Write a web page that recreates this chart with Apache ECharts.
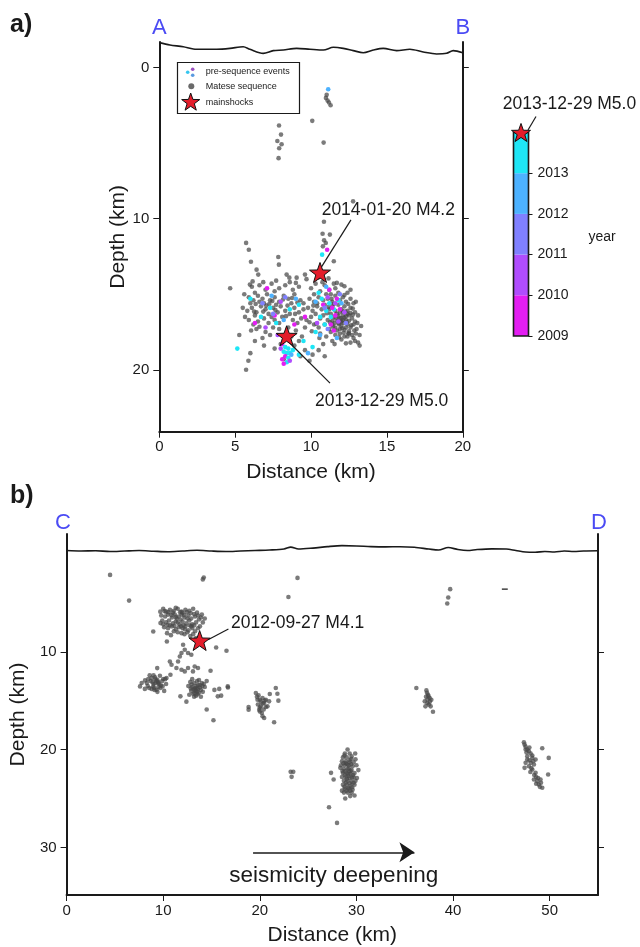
<!DOCTYPE html>
<html><head><meta charset="utf-8">
<script src="https://cdn.jsdelivr.net/npm/echarts@6/dist/echarts.min.js"></script>
<style>html,body{margin:0;padding:0;background:#fff}#c{width:640px;height:947px}</style>
</head><body><div id="c"></div>
<script>
// ---------------- DATA ----------------
// Panel a (A-B), [distance km, depth km]
const aTopo = [[0,-1.66],[0.7,-1.5],[1.58,-1.39],[2.24,-1.24],[2.9,-1.22],[3.78,-1.22],[4.66,-1.28],[5.53,-1.39],[5.97,-1.22],[6.85,-0.95],[7.51,-1.13],[8.17,-1.17],[9.05,-1.28],[9.93,-1.22],[10.81,-1.17],[11.47,-1.35],[12.12,-1.28],[12.78,-1.13],[13.44,-0.99],[14.1,-1.17],[14.76,-1.28],[15.64,-1.13],[16.51,-1.22],[17.39,-1.04],[18.27,-0.91],[18.93,-0.95],[19.37,-1.13],[20,-0.99]];
const aShallowGray = [[11.03,1.8],[10.98,2.0],[11.09,2.18],[11.18,2.31],[11.29,2.49],[10.08,3.52],[10.83,4.96],[7.89,3.83],[8.02,4.43],[7.78,4.85],[8.06,5.07],[7.9,5.33],[7.86,5.99],
  [12.77,8.85],[10.85,10.2],[10.76,10.99],[11.24,11.05],[10.86,11.43],[10.78,11.83],[10.97,11.61],[11.5,12.82],[11.7,14.25],[12.0,14.36],[12.2,14.47],[9.6,13.7],[9.7,14.0],
  [7.84,12.53],[7.88,13.04],[6.41,13.37],[6.52,13.7],[5.97,14.36],[8.39,13.7],[8.57,13.9],[9.05,13.9],[4.67,14.6],[5.72,11.6],[5.9,12.05],[6.04,12.85]];
const aLeftGray = [[6.1,14.5],[6.6,14.4],[7.0,14.7],[7.4,14.3],[7.9,14.6],[8.3,14.4],[8.8,14.7],[9.2,14.5],[6.3,14.9],[7.6,14.8],
  [5.9,15.2],[6.2,15.4],[6.5,15.1],[6.8,15.3],[7.1,15.0],[7.3,15.4],[7.6,15.2],[7.9,15.5],[8.2,15.1],[8.5,15.3],[8.9,15.0],[9.3,15.4],[6.0,15.6],[6.9,15.6],[7.7,15.7],[8.7,15.6],
  [5.8,16.1],[6.1,15.9],[6.4,16.2],[6.7,15.8],[7.0,16.0],[7.2,16.3],[7.5,15.9],[7.8,16.2],[8.0,15.8],[8.3,16.1],[8.6,16.3],[8.9,15.9],[9.2,16.2],[9.5,16.0],[6.3,16.4],[7.4,16.5],[8.1,16.5],[6.6,15.5],[7.25,15.65],[8.45,15.75],
  [5.9,16.7],[6.5,16.8],[6.9,16.6],[7.2,16.9],[7.6,16.7],[7.9,16.9],[8.8,16.7],[9.1,16.9],[6.2,17.0],
  [6.4,17.3],[7.0,17.5],[7.5,17.2],[9.0,17.4],[9.4,17.8],[6.8,17.9],
  [8.0,18.3],[8.9,18.4],[9.6,18.7],[10.1,19.0],[9.3,19.1],[8.2,19.3],[6.0,18.9],[5.87,19.4],[5.72,20.0],[5.27,17.7],[9.5,15.6],[9.7,16.7],[9.6,17.2],
  [6.15,14.15],[6.85,14.2],[7.7,14.1],[8.6,14.2],[9.0,14.25],[5.6,15.0],[5.5,15.9],[5.65,16.5],[6.35,15.65],[7.05,15.75],[7.45,15.45],[8.15,15.35],[8.75,15.25],[9.1,15.55],[6.25,16.15],[6.85,16.15],[7.65,16.05],[8.35,16.45],[8.95,16.3],[9.35,16.6],[6.05,17.4],[6.6,17.15],[7.3,17.7],[7.9,17.3],[8.5,17.2],[8.7,17.8],[9.2,18.1],[6.9,18.4],[7.6,18.6],[10.5,18.7],[10.9,19.1],[9.9,19.4],[6.3,18.1]];
const aRightGray = [[10.0,14.6],[10.3,14.3],[10.6,14.8],[10.9,14.4],[11.2,14.7],[11.5,14.3],[12.4,14.9],[10.2,15.0],[11.0,15.0],[11.8,14.9],
  [9.9,15.3],[10.2,15.5],[10.5,15.2],[10.8,15.4],[11.1,15.3],[11.4,15.5],[11.6,15.1],[11.9,15.4],[12.1,15.2],[12.3,15.5],[12.6,15.3],[12.8,15.6],[10.4,15.6],[11.3,15.0],
  [9.8,15.9],[10.1,16.1],[10.4,15.8],[10.7,16.0],[10.9,15.7],[11.2,16.0],[11.4,15.8],[11.6,16.1],[11.8,15.7],[12.0,16.0],[12.2,15.8],[12.4,16.1],[12.6,15.9],[12.9,16.2],[11.5,15.65],[12.1,16.15],[11.9,16.2],
  [10.0,16.5],[10.3,16.3],[10.6,16.6],[10.8,16.4],[11.1,16.7],[11.3,16.3],[11.5,16.5],[11.7,16.3],[11.9,16.6],[12.1,16.4],[12.3,16.7],[12.5,16.4],[12.7,16.6],[12.9,16.8],[11.4,16.75],[12.0,16.8],[12.4,16.3],[11.8,16.45],[12.2,16.55],[12.6,16.25],
  [10.2,17.0],[10.5,17.2],[10.9,17.0],[11.2,17.3],[11.4,17.0],[11.6,17.2],[11.8,16.9],[12.0,17.1],[12.2,17.35],[12.4,17.0],[12.6,17.2],[12.8,17.0],[13.0,17.3],[11.7,17.4],[12.3,17.2],[11.9,17.3],[12.5,17.45],
  [10.6,17.6],[11.0,17.8],[11.3,17.5],[11.6,17.7],[11.9,17.6],[12.2,17.8],[12.5,17.6],[12.8,17.9],[13.1,18.2],[12.0,18.0],[11.4,18.1],[10.8,18.3],[12.6,18.2],[13.2,17.7],
  [12.0,16.6],[12.15,16.9],[11.85,17.0],[12.35,16.85],[12.05,17.25],[11.65,16.6],[12.25,16.15],[12.45,17.6],
  [11.05,16.25],[11.25,16.85],[11.45,17.15],[11.55,16.9],[11.75,16.75],[11.95,16.85],[12.1,16.7],[12.3,16.45],[12.5,16.75],[12.65,17.05],[12.75,16.35],[12.85,17.4],[12.95,17.6],[13.05,16.9],[12.4,17.8],[12.7,17.7],[12.15,17.55],[11.85,17.85],[11.55,18.3],[12.3,18.25],[12.9,18.1],[13.2,18.4],[11.15,15.85],[11.35,15.3],[12.45,15.65],[12.75,15.95],[12.95,15.5],[13.1,16.4],[12.2,15.05],[11.6,14.6],[10.75,14.2],[10.45,13.9],[11.15,13.95],[12.6,14.7],[10.15,15.75],[10.35,16.95],[10.55,17.9],[10.05,17.45],[9.9,16.85],[13.3,17.1]];
// pre-sequence events: [distance, depth, decimal year]
const aPreSeq = [[11.13,1.43,2012.5],[10.73,12.38,2013.5],[11.06,12.05,2009.5],
  [10.5,14.9,2013.5],[10.7,15.3,2013.3],[11.2,15.6,2013.6],[11.0,16.1,2013.4],[10.6,16.5,2013.7],[11.5,16.0,2013.2],[10.9,17.0,2013.5],[11.3,16.5,2013.8],[11.8,15.4,2013.4],
  [11.2,14.7,2009.5],[11.4,15.9,2009.3],[11.6,16.4,2009.6],[11.3,17.0,2009.4],[10.8,15.7,2009.2],[11.7,15.3,2009.8],[11.9,16.0,2009.5],[11.5,17.4,2009.7],
  [11.1,15.2,2010.4],[11.8,16.8,2010.5],[12.2,16.2,2010.6],[10.4,16.9,2010.3],[11.6,15.6,2010.7],
  [11.9,15.0,2011.4],[10.9,15.9,2011.5],[12.3,16.9,2011.6],[11.1,17.3,2011.5],
  [10.3,15.5,2012.5],[11.0,14.5,2012.4],[12.0,15.6,2012.6],[10.6,17.7,2012.3],[11.7,17.9,2012.5],
  [6.0,15.3,2013.5],[7.3,15.9,2013.4],[6.7,16.5,2013.6],[8.6,16.0,2013.3],[9.2,15.7,2013.5],[7.7,16.9,2013.6],[5.14,18.6,2013.5],
  [7.1,14.6,2009.5],[6.3,16.9,2009.4],[7.6,16.4,2009.6],[8.9,17.0,2009.3],[9.6,16.5,2009.5],
  [8.0,15.5,2010.5],[7.0,17.2,2010.4],[7.8,17.7,2010.5],
  [8.3,15.2,2011.5],[7.5,16.3,2011.5],[6.8,15.6,2011.4],
  [7.4,15.1,2012.5],[8.2,16.7,2012.4],[9.0,15.3,2012.5],
  [8.1,18.3,2009.5],[8.3,18.5,2013.5],[8.5,18.6,2013.6],[8.2,18.8,2013.4],[8.4,18.9,2013.7],[8.6,18.9,2013.5],[8.3,19.1,2009.4],[8.5,19.2,2013.5],[8.1,19.3,2009.6],[8.7,19.0,2012.5],[8.4,19.5,2013.5],[8.2,19.6,2009.5],[8.6,19.4,2010.5],[8.0,18.6,2010.4],[8.8,18.7,2013.6],
  [9.5,18.1,2013.5],[10.1,18.5,2013.5],[9.2,19.0,2013.4],[10.3,17.5,2013.6],[9.8,18.9,2012.5]];
const aMainshocks = [[10.59,13.56],[8.39,17.75]];
const aLabels = ['2014-01-20 M4.2','2013-12-29 M5.0'];
const aLabelPos = [[15.09,9.41],[14.65,22.08]];
const aLeaders = [[[12.63,10.08],[10.7,13.17]],[[11.25,20.88],[8.5,18.13]]];
const aXTicks = [0,5,10,15,20];
const aYTicks = [0,10,20];

// colour bar (years)
const cbEdges = [2009,2010,2011,2012,2013,2014];
const cbTicks = [2009,2010,2011,2012,2013];
const yearColors = ['#e31ef2','#b04dfe','#8080ff','#4db2ff','#1ee6f6'];

// Panel b (C-D)
const bTopo = [[0,-0.35],[1.5,-0.3],[3,-0.32],[4.5,-0.25],[6,-0.3],[7.5,-0.35],[9,-0.28],[10.5,-0.22],[12,-0.3],[13.5,-0.38],[15,-0.3],[16.5,-0.25],[18,-0.3],[19.5,-0.35],[21,-0.4],[22.5,-0.5],[23.2,-0.7],[24,-0.5],[25.5,-0.6],[27,-0.75],[28.5,-0.85],[30,-0.82],[31.5,-0.75],[33,-0.72],[34.5,-0.74],[36,-0.68],[37.5,-0.5],[38.5,-0.4],[39.5,-0.66],[40.5,-0.45],[41.5,-0.35],[42.5,-0.45],[44,-0.52],[45.5,-0.5],[46.5,-0.35],[47.5,-0.2],[48.5,-0.18],[49.5,-0.25],[50.5,-0.2],[51.5,-0.3],[52.5,-0.25],[53.5,-0.3],[55,-0.32]];
const bShallow = [[4.5,2.14],[6.47,4.77],[14.1,2.6],[14.2,2.4],[23.9,2.45],[22.96,4.4],[39.7,3.6],[39.5,4.46],[39.4,5.07]];
const bNW = [[10.0,5.6],[10.3,5.9],[10.7,5.7],[11.1,5.8],[11.5,5.6],[11.9,5.9],[12.3,5.7],[12.7,5.8],[13.1,5.6],[13.5,6.0],[14.0,6.2],[14.3,6.6],
  [9.8,6.3],[10.2,6.4],[10.5,6.2],[10.9,6.5],[11.2,6.2],[11.6,6.4],[11.9,6.2],[12.2,6.5],[12.6,6.3],[12.9,6.6],[13.3,6.4],[13.7,6.7],[14.1,7.0],
  [9.9,6.8],[10.3,7.0],[10.6,6.8],[11.0,7.1],[11.3,6.9],[11.7,7.2],[12.0,6.9],[12.4,7.1],[12.7,6.8],[13.0,7.2],[13.4,7.0],[13.8,7.4],
  [10.1,7.5],[10.5,7.6],[10.9,7.4],[11.3,7.7],[11.6,7.5],[12.0,7.6],[12.3,7.4],[12.6,7.8],[13.0,7.6],[13.3,7.9],
  [10.4,8.1],[10.8,8.3],[11.5,8.0],[12.2,8.2],[12.8,8.4],[13.4,8.6],
  [11.4,6.6],[11.8,6.7],[12.1,7.3],[11.5,7.0],[12.5,6.6],[11.0,6.0],[12.0,6.0],[10.7,7.3],[12.9,7.4],[13.6,6.3],
  [10.15,5.85],[10.55,5.95],[10.85,6.25],[11.3,6.45],[11.75,5.95],[12.15,6.25],[12.45,5.95],[12.85,6.05],[13.2,6.15],[13.9,6.5],[10.0,7.2],[10.45,7.25],[11.15,7.35],[11.85,7.4],[12.25,7.7],[12.75,7.3],[13.2,7.3],[13.6,7.6],[11.1,7.9],[11.9,8.1],[12.5,8.0],[13.1,8.2],[9.7,5.9],[11.3,5.5],
  [8.97,7.93],[9.72,7.07],[10.38,8.95],[15.48,9.56],[16.55,9.9]];
const bStrand = [[12.06,9.29],[12.23,9.8],[12.57,10.13],[12.91,10.31],[11.89,10.13],[11.72,10.48],[11.54,10.99],[10.69,10.99],[10.86,11.33],[11.37,11.66],[11.89,11.84],[12.23,12.01],[12.57,11.66],[13.26,11.5],[13.6,11.66],[13.08,12.01],[14.9,11.94],[9.38,11.67],[10.34,12.69],[10.75,12.35]];
const bClusterW = [[7.6,13.54],[7.77,13.2],[8.12,12.93],[8.8,12.69],[9.66,12.45],[10.0,12.79],[9.93,13.54],[9.3,13.88],[8.97,13.54],[9.48,13.2],
  [8.4,13.5],[8.7,13.0],[9.0,13.3],[9.2,12.8],[9.5,13.1],[9.7,13.7],[9.9,13.0],[10.2,12.8],[9.1,13.9],[8.8,13.8],[9.4,12.9],[9.2,13.2],[9.6,13.3],[8.6,12.4],[9.0,12.4],[10.1,14.0],[9.4,14.1],[8.1,13.8],[9.3,13.0],[9.5,13.6],[8.9,13.1],
  [8.3,13.2],[8.55,13.7],[9.15,12.6],[9.75,13.45],[10.3,13.3],[9.05,13.7],[8.45,12.8]];
const bClusterC = [[12.6,13.5],[12.8,13.1],[12.9,14.0],[13.0,13.6],[13.1,14.3],[13.2,13.2],[13.3,13.9],[13.4,13.5],[13.4,14.5],[13.5,13.0],[13.6,13.8],[13.7,14.2],[13.8,13.4],[13.9,13.9],[14.0,13.2],[14.1,14.1],[14.3,13.6],[14.5,13.0],[13.3,13.7],[13.5,14.1],[13.2,14.6],[13.6,13.4],[13.45,13.75],[13.35,14.0],[12.7,14.4],[14.2,13.3],[13.9,14.6],[13.0,12.8],[13.7,12.9],
  [12.95,13.35],[13.15,13.85],[13.55,14.35],[13.8,13.65],[14.05,13.5],[13.25,14.25],[12.85,13.75],
  [15.3,13.9],[15.8,13.8],[16.7,13.65],[15.65,14.56],[16.0,14.49],[11.78,14.56],[12.4,15.1],[14.5,15.9],[15.2,17.0],[16.68,13.54]];
const bCluster20 = [[19.59,14.22],[19.87,14.46],[19.76,14.9],[20.28,14.73],[20.62,14.9],[20.45,15.24],[20.1,15.58],[19.94,15.92],[20.21,16.26],[20.45,16.77],[20.96,15.07],[20.79,15.58],[21.65,13.71],[21.82,14.29],[21.92,15.0],[21.03,14.32],[21.48,17.2],[18.84,15.65],[18.84,15.92],[20.62,15.65],[20.0,16.1],[20.28,16.6],[20.1,15.1],[19.8,15.4],[20.4,15.9],
  [19.7,14.6],[20.0,14.9],[20.3,15.3],[20.5,15.0],[20.0,15.7],
  [23.19,22.28],[23.46,22.28],[23.29,22.79]];
const bCluster29 = [[29.08,20.0],[28.8,20.4],[29.3,20.4],[29.87,20.41],[28.6,20.8],[29.0,20.8],[29.5,20.7],[29.9,21.0],[28.5,21.2],[28.9,21.2],[29.3,21.1],[29.7,21.3],[28.4,21.6],[28.8,21.6],[29.2,21.6],[29.6,21.7],[30.0,21.6],[28.33,21.87],[28.7,22.0],[29.1,22.0],[29.5,22.1],[30.2,22.1],[28.6,22.4],[29.0,22.4],[29.4,22.5],[29.8,22.4],[28.5,22.8],[28.9,22.8],[29.3,22.9],[29.7,22.8],[28.7,23.2],[29.1,23.2],[29.5,23.3],[29.9,23.2],[28.6,23.6],[29.0,23.6],[29.4,23.7],[29.8,23.6],[28.8,24.0],[29.2,24.0],[29.6,24.1],[28.7,24.4],[29.1,24.4],[29.5,24.4],[28.84,25.0],[29.35,24.76],[29.8,24.7],[29.2,21.9],[29.0,23.0],[29.2,22.7],[28.9,21.4],[29.4,22.2],[29.15,23.9],[28.95,24.2],[29.3,21.3],
  [28.75,20.6],[29.45,20.95],[28.65,21.4],[29.05,21.5],[29.45,21.5],[28.55,22.2],[28.85,22.2],[29.25,22.25],[29.65,22.6],[28.8,22.6],[29.15,22.5],[29.55,22.9],[28.9,23.4],[29.3,23.45],[29.7,23.4],[28.75,23.8],[29.55,23.85],[29.35,24.2],[28.5,24.2],[30.05,22.9],
  [27.37,22.38],[27.64,23.06],[27.16,25.9],[27.99,27.5]];
const bCluster37 = [[36.2,13.71],[37.24,13.95],[37.41,14.39],[37.58,14.73],[37.07,15.07],[37.34,15.24],[37.68,15.58],[37.14,15.58],[37.92,16.13],[37.47,14.56],[37.75,14.9],[37.3,14.2],[37.5,15.4],[37.2,14.6],[37.6,15.1],[37.35,14.85]];
const bCluster48 = [[47.33,19.25],[47.4,19.49],[47.51,20.0],[47.85,20.17],[48.03,20.41],[47.68,20.68],[48.2,20.85],[47.51,21.36],[47.85,21.7],[48.37,21.53],[48.2,22.04],[48.54,22.38],[48.37,23.06],[48.71,23.23],[49.05,23.06],[48.88,23.57],[49.23,23.91],[48.98,23.81],[49.23,19.86],[49.9,20.85],[49.84,22.55],[47.4,21.87],[47.68,21.02],[48.54,21.02],[48.03,21.36],[47.6,20.3],[48.1,21.9],[48.6,22.8],[47.9,19.8],
  [47.5,19.7],[47.7,20.0],[48.2,20.6],[47.9,21.1],[48.3,21.2],[48.0,22.3],[48.4,22.6],[48.8,22.9],[48.6,23.5],[49.1,23.4]];
const bDash = [[45.05,3.6],[45.66,3.6]];
const bMainshock = [[13.77,8.85]];
const bLabel = '2012-09-27 M4.1';
const bLabelPos = [16.96,7.04];
const bLeader = [[14.64,8.78],[16.75,7.68]];
const bArrow = [[19.3,30.5],[36.0,30.5]];
const bArrowText = 'seismicity deepening';
const bArrowTextPos = [27.65,32.9];
const bXTicks = [0,10,20,30,40,50];
const bYTicks = [10,20,30];

// ---------------- CHART ----------------
const FONT = 'Liberation Sans, Arial, Helvetica, sans-serif';
const INK = '#1a1a1a';
const GRAY = 'rgba(72,72,72,0.72)';
const BLUE = '#4b4bf4';
function starPoints(cx, cy, R) {
  const r = R * 0.4, pts = [];
  for (let i = 0; i < 10; i++) {
    const a = -Math.PI / 2 + i * Math.PI / 5, rad = i % 2 ? r : R;
    pts.push([cx + rad * Math.cos(a), cy + rad * Math.sin(a)]);
  }
  return pts;
}
const STAR = 'path://' + starPoints(0, 0, 10).map((p, i) => (i ? 'L' : 'M') + p[0].toFixed(3) + ',' + p[1].toFixed(3)).join(' ') + ' Z';
const starStyle = { color: '#e41d2b', borderColor: '#111', borderWidth: 1, opacity: 1 };

function depthAxis(grid, min, max, ticks, side, withName) {
  return {
    type: 'value', gridIndex: grid, inverse: true, min: min, max: max, position: side,
    name: withName ? 'Depth (km)' : '', nameLocation: 'middle', nameGap: 31,
    nameTextStyle: { fontFamily: FONT, fontSize: 21, color: INK },
    axisLine: { show: true, onZero: false, lineStyle: { color: INK, width: 2 } },
    axisTick: { show: true, length: 6, customValues: ticks, lineStyle: { color: INK, width: 1 } },
    axisLabel: { show: side === 'left', customValues: ticks, margin: 10, fontFamily: FONT, fontSize: 15, color: INK },
    splitLine: { show: false }
  };
}
function distAxis(grid, max, ticks) {
  return {
    type: 'value', gridIndex: grid, min: 0, max: max, position: 'bottom',
    name: 'Distance (km)', nameLocation: 'middle', nameGap: 30,
    nameTextStyle: { fontFamily: FONT, fontSize: 21, color: INK },
    axisLine: { show: true, onZero: false, lineStyle: { color: INK, width: 2 } },
    axisTick: { show: true, length: 6, customValues: ticks, lineStyle: { color: INK, width: 1 } },
    axisLabel: { customValues: ticks, margin: 8, fontFamily: FONT, fontSize: 15, color: INK },
    splitLine: { show: false }
  };
}
function dots(xi, yi, data, size, color, z) {
  return { type: 'scatter', xAxisIndex: xi, yAxisIndex: yi, data: data, symbolSize: size,
    itemStyle: { color: color, opacity: 1 }, z: z || 3, silent: true, animation: false };
}
function textMark(xi, yi, pos, text, size, position) {
  return { type: 'scatter', xAxisIndex: xi, yAxisIndex: yi, data: [pos], symbolSize: 1,
    itemStyle: { color: 'rgba(0,0,0,0)', opacity: 1 }, z: 8, animation: false, silent: true,
    label: { show: true, position: position || 'inside', distance: 0, formatter: text,
      fontFamily: FONT, fontSize: size, color: INK, opacity: 1 } };
}
function leader(xi, yi, coords, extra) {
  return Object.assign({ type: 'lines', coordinateSystem: 'cartesian2d', xAxisIndex: xi, yAxisIndex: yi,
    data: [{ coords: coords }], lineStyle: { color: INK, width: 1.2, opacity: 1 }, z: 6, animation: false, silent: true }, extra || {});
}

const chart = echarts.init(document.getElementById('c'), null, { renderer: 'canvas' });
const cbSeries = cbEdges.slice(0, -1).map((e, i) => ({
  type: 'bar', xAxisIndex: 1, yAxisIndex: 2, stack: 'cb', barWidth: '100%',
  data: [i === 0 ? cbEdges[1] : cbEdges[i + 1] - cbEdges[i]],
  itemStyle: { color: yearColors[i] }, z: 2, animation: false, silent: true
}));

chart.setOption({
  animation: false,
  backgroundColor: '#fff',
  grid: [
    { left: 159.3, top: 42, width: 303.5, height: 389.7 },
    { left: 513.5, top: 132.5, width: 15, height: 203.5, show: true, z: 10, borderColor: INK, borderWidth: 1.6, backgroundColor: 'rgba(0,0,0,0)' },
    { left: 62.7, top: 534, width: 535.3, height: 361.7 }
  ],
  xAxis: [
    distAxis(0, 20, aXTicks),
    { type: 'category', gridIndex: 1, data: ['cb'], show: false },
    distAxis(2, 55, bXTicks)
  ],
  yAxis: [
    depthAxis(0, -1.7, 24.1, aYTicks, 'left', true),
    depthAxis(0, -1.7, 24.1, aYTicks, 'right', false),
    { type: 'value', gridIndex: 1, min: cbEdges[0], max: cbEdges[cbEdges.length - 1], position: 'right',
      axisLine: { show: false }, splitLine: { show: false },
      axisTick: { show: true, length: 4, customValues: cbTicks, lineStyle: { color: INK } },
      axisLabel: { customValues: cbTicks, margin: 9, fontFamily: FONT, fontSize: 14, color: INK,
        verticalAlign: 'middle', padding: [0, 0, 8, 0], formatter: v => String(v) } },
    depthAxis(2, -2.04, 34.87, bYTicks, 'left', true),
    depthAxis(2, -2.04, 34.87, bYTicks, 'right', false)
  ],
  series: [
    { type: 'line', xAxisIndex: 0, yAxisIndex: 0, data: aTopo, showSymbol: false, smooth: 0.3, lineStyle: { color: INK, width: 1.6 }, z: 4, silent: true },
    dots(0, 0, aShallowGray.concat(aLeftGray, aRightGray), 4.6, GRAY, 3),
    { type: 'scatter', xAxisIndex: 0, yAxisIndex: 0, data: aPreSeq, symbolSize: 4.6, z: 4, silent: true,
      itemStyle: { opacity: 1, color: p => yearColors[Math.min(4, Math.floor(p.value[2]) - cbEdges[0])] } },
    leader(0, 0, aLeaders[0]),
    leader(0, 0, aLeaders[1]),
    { type: 'scatter', xAxisIndex: 0, yAxisIndex: 0, data: aMainshocks, symbol: STAR, symbolSize: 21, symbolKeepAspect: true, itemStyle: starStyle, z: 7, silent: true },
    textMark(0, 0, aLabelPos[0], aLabels[0], 17.5),
    textMark(0, 0, aLabelPos[1], aLabels[1], 17.5),
    ...cbSeries,
    { type: 'scatter', xAxisIndex: 1, yAxisIndex: 2, data: [['cb', cbEdges[cbEdges.length - 1]]], symbol: STAR, symbolSize: 19, symbolKeepAspect: true, itemStyle: starStyle, z: 20, clip: false, silent: true },
    { type: 'line', xAxisIndex: 2, yAxisIndex: 3, data: bTopo, showSymbol: false, smooth: 0.3, lineStyle: { color: INK, width: 1.6 }, z: 4, silent: true },
    dots(2, 3, bShallow.concat(bNW, bStrand, bClusterW, bClusterC, bCluster20, bCluster29, bCluster37, bCluster48), 4.6, GRAY, 3),
    { type: 'line', xAxisIndex: 2, yAxisIndex: 3, data: bDash, showSymbol: false, lineStyle: { color: INK, width: 1.2 }, z: 4, silent: true },
    leader(2, 3, bLeader),
    { type: 'scatter', xAxisIndex: 2, yAxisIndex: 3, data: bMainshock, symbol: STAR, symbolSize: 21, symbolKeepAspect: true, itemStyle: starStyle, z: 7, silent: true },
    textMark(2, 3, bLabelPos, bLabel, 17.5, 'right'),
    leader(2, 3, bArrow, { symbol: ['none', 'arrow'], symbolSize: 15, lineStyle: { color: INK, width: 1.6, opacity: 1 } }),
    textMark(2, 3, bArrowTextPos, bArrowText, 22.5)
  ],
  graphic: [
    { type: 'text', left: 10, top: 13, style: { text: 'a)', font: 'bold 25px ' + FONT, fill: INK } },
    { type: 'text', left: 10, top: 484, style: { text: 'b)', font: 'bold 25px ' + FONT, fill: INK } },
    { type: 'text', x: 159.3, y: 28, style: { text: 'A', font: '22px ' + FONT, fill: BLUE, align: 'center', verticalAlign: 'middle' } },
    { type: 'text', x: 462.8, y: 28, style: { text: 'B', font: '22px ' + FONT, fill: BLUE, align: 'center', verticalAlign: 'middle' } },
    { type: 'text', x: 63, y: 523, style: { text: 'C', font: '22px ' + FONT, fill: BLUE, align: 'center', verticalAlign: 'middle' } },
    { type: 'text', x: 599, y: 523, style: { text: 'D', font: '22px ' + FONT, fill: BLUE, align: 'center', verticalAlign: 'middle' } },
    // colour bar annotations
    { type: 'text', x: 569.5, y: 104, z: 30, style: { text: '2013-12-29 M5.0', font: '17.5px ' + FONT, fill: INK, align: 'center', verticalAlign: 'middle' } },
    { type: 'line', z: 30, shape: { x1: 536, y1: 116.5, x2: 528, y2: 130 }, style: { stroke: INK, lineWidth: 1.2 } },
    { type: 'text', x: 602, y: 237, style: { text: 'year', font: '14px ' + FONT, fill: INK, align: 'center', verticalAlign: 'middle' } },
    // legend box
    { type: 'rect', z: 30, shape: { x: 177.5, y: 62.5, width: 122, height: 51 }, style: { fill: '#fff', stroke: INK, lineWidth: 1.2 } },
    { type: 'circle', z: 31, shape: { cx: 187.7, cy: 72.3, r: 1.8 }, style: { fill: '#36c6f0' } },
    { type: 'circle', z: 31, shape: { cx: 192.7, cy: 69.3, r: 1.8 }, style: { fill: '#9a4fc0' } },
    { type: 'circle', z: 31, shape: { cx: 192.7, cy: 75.3, r: 1.8 }, style: { fill: '#5a9ae0' } },
    { type: 'circle', z: 31, shape: { cx: 191.3, cy: 86.3, r: 3 }, style: { fill: '#6a6a6a' } },
    { type: 'polygon', z: 31, shape: { points: starPoints(190.7, 102.5, 9.5) }, style: { fill: '#e41d2b', stroke: '#111', lineWidth: 1 } },
    { type: 'text', z: 31, x: 205.7, y: 71.5, style: { text: 'pre-sequence events', font: '9px ' + FONT, fill: INK, verticalAlign: 'middle' } },
    { type: 'text', z: 31, x: 205.7, y: 86.5, style: { text: 'Matese sequence', font: '9px ' + FONT, fill: INK, verticalAlign: 'middle' } },
    { type: 'text', z: 31, x: 205.7, y: 102.5, style: { text: 'mainshocks', font: '9px ' + FONT, fill: INK, verticalAlign: 'middle' } }
  ]
});
</script></body></html>
